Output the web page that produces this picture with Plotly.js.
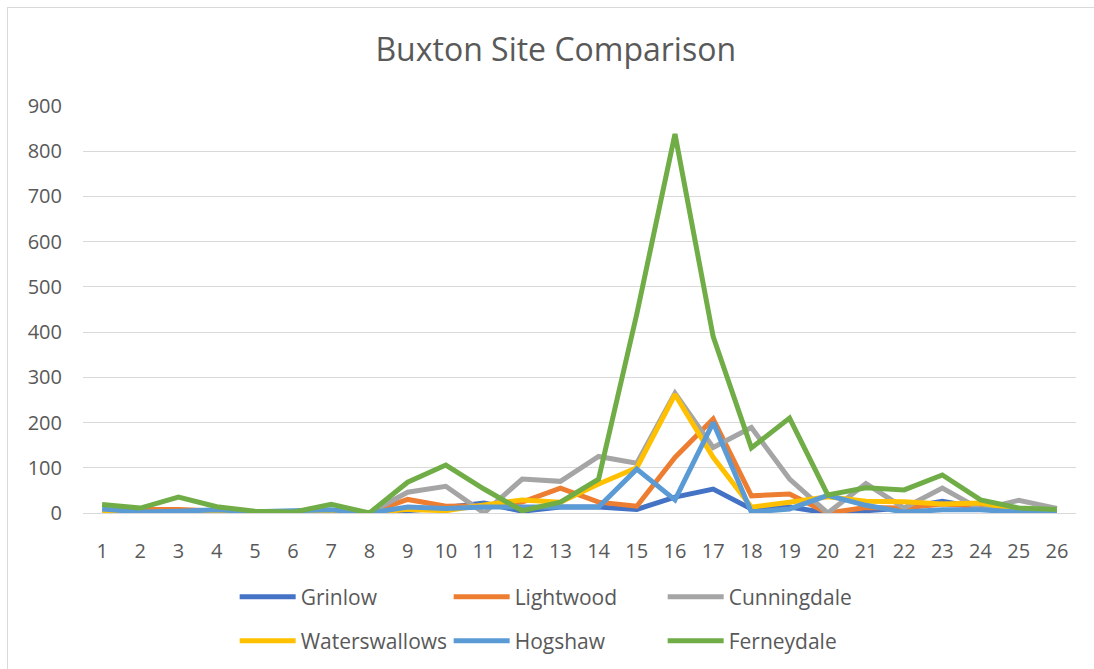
<!DOCTYPE html>
<html>
<head>
<meta charset="utf-8">
<script src="https://cdn.plot.ly/plotly-3.0.1.min.js"></script>
<style>
  body { margin: 0; background: #fff; }
  #wrap { position: relative; width: 1094px; height: 669px; overflow: hidden; }
  #chart { width: 1094px; height: 669px; }
  #frame { position: absolute; left: 7px; top: 7px; width: 1200px; height: 800px;
           border: 1px solid #d9d9d9; pointer-events: none; }
</style>
</head>
<body>
<div id="wrap">
  <div id="chart"></div>
  <div id="frame"></div>
</div>
<script>
// Buxton site comparison – weekly counts per site

const weeks = [1,2,3,4,5,6,7,8,9,10,11,12,13,14,15,16,17,18,19,20,21,22,23,24,25,26];

const grinlow       = [0,0,0,0,0,0,0,0,5,12,22,4,13,13,8,35,53,9,13,0,5,11,26,11,4,2];
const lightwood     = [3,8,8,4,1,0,3,0,30,15,16,24,55,24,15,123,208,38,42,0,12,11,20,15,5,3];
const cunningdale   = [0,0,0,3,1,0,3,0,46,59,0,75,70,125,110,265,145,189,75,0,65,11,55,8,28,10];
const waterswallows = [2,0,0,2,1,0,2,0,8,5,18,29,24,64,100,262,123,13,24,36,26,25,20,22,8,5];
const hogshaw       = [9,2,4,7,3,5,7,0,13,10,13,13,14,13,97,29,200,2,9,39,17,2,7,7,2,2];
const ferneydale    = [19,11,35,14,4,2,19,0,68,106,53,5,24,75,440,838,390,144,210,40,56,51,84,29,11,8];

const yTicks = [0,100,200,300,400,500,600,700,800,900];

const COLORS = {
    grinlow:       '#4472C4',
    lightwood:     '#ED7D31',
    cunningdale:   '#A5A5A5',
    waterswallows: '#FFC000',
    hogshaw:       '#5B9BD5',
    ferneydale:    '#70AD47',
    text:          '#595959',
    grid:          '#d9d9d9',
};

const FONT = 'Open Sans, Noto Sans, sans-serif';

function line(name, y, color, legend) {
    return {
        x: weeks, y, name, legend,
        type: 'scatter', mode: 'lines',
        line: { color, width: 5 },
        hoverinfo: 'x+y+name',
    };
}

const traces = [
    line('Grinlow',       grinlow,       COLORS.grinlow,       'legend'),
    line('Lightwood',     lightwood,     COLORS.lightwood,     'legend'),
    line('Cunningdale',   cunningdale,   COLORS.cunningdale,   'legend'),
    line('Waterswallows', waterswallows, COLORS.waterswallows, 'legend2'),
    line('Hogshaw',       hogshaw,       COLORS.hogshaw,       'legend2'),
    line('Ferneydale',    ferneydale,    COLORS.ferneydale,    'legend2'),
];

const legendBase = {
    orientation: 'h',
    xref: 'container', yref: 'container',
    x: 0.2145, xanchor: 'left', yanchor: 'middle',
    itemwidth: 56,
    entrywidth: 143, entrywidthmode: 'pixels',
    font: { family: FONT, size: 21, color: COLORS.text },
    bgcolor: 'rgba(0,0,0,0)',
    traceorder: 'normal',
};

const layout = {
    width: 1094, height: 669,
    paper_bgcolor: '#ffffff',
    plot_bgcolor: '#ffffff',
    font: { family: FONT, color: COLORS.text },
    margin: { t: 106, r: 18, b: 156, l: 83 },
    title: {
        text: 'Buxton Site Comparison',
        font: { family: FONT, size: 32, color: COLORS.text },
        x: 0.508, xref: 'container', xanchor: 'center',
        y: 0.925, yref: 'container', yanchor: 'middle',
    },
    xaxis: {
        range: [0.5, 26.5],
        tickvals: weeks,
        ticktext: weeks.map(String),
        showgrid: false,
        zeroline: false,
        showline: true, linecolor: COLORS.grid, linewidth: 1,
        ticks: '', ticklabelstandoff: 20,
        tickfont: { family: FONT, size: 20, color: COLORS.text },
        fixedrange: true,
    },
    yaxis: {
        range: [0, 900],
        tickvals: yTicks,
        showgrid: true, gridcolor: COLORS.grid, gridwidth: 1,
        zeroline: false,
        showline: false,
        ticks: '', ticklabelstandoff: 20,
        tickfont: { family: FONT, size: 20, color: COLORS.text },
        fixedrange: true,
    },
    showlegend: true,
    legend:  { ...legendBase, y: 1 - 597 / 669 },
    legend2: { ...legendBase, y: 1 - 641 / 669 },
};

Plotly.newPlot('chart', traces, layout, { displayModeBar: false, staticPlot: true });
</script>
</body>
</html>
